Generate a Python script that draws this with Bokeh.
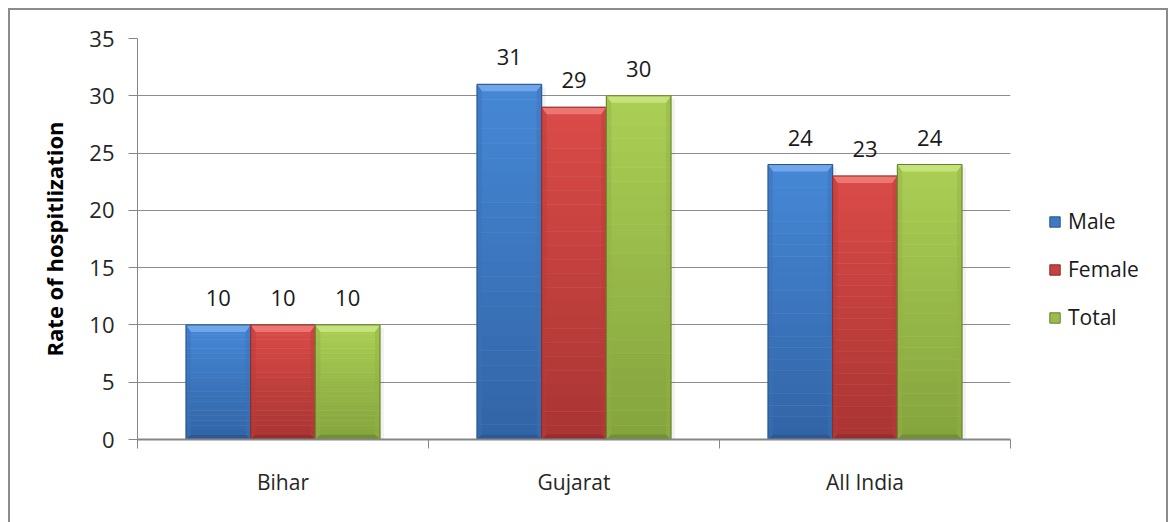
from bokeh.plotting import figure
from bokeh.models import FixedTicker, Legend, LegendItem
from bokeh.core.properties import value
from bokeh.embed import file_html
from bokeh.resources import INLINE

# ---- data ----
regions = ["Bihar", "Gujarat", "All India"]
series_names = ["Male", "Female", "Total"]
male = [10, 31, 24]
female = [10, 29, 23]
total = [10, 30, 24]
y_ticks = [0, 5, 10, 15, 20, 25, 30, 35]

# ---- styling ----
FONT = "Open Sans"
# (top of bar, bottom of bar, top bevel, bottom bevel, side bevel, outline)
palettes = {
    "Male":   ("#4688D6", "#3264A6", "#75AAEC", "#2A5590", "#3A70B8", "#2A5488"),
    "Female": ("#DA4B48", "#A93533", "#EE7A77", "#8F2C2A", "#B93C39", "#8A2B29"),
    "Total":  ("#ABCF55", "#84A33D", "#C9E57F", "#6E8A31", "#92B244", "#66812C"),
}

FRAME_W, FRAME_H = 873, 401
Y_MAX = 35
n_cat = len(regions)
ux = n_cat / FRAME_W          # data units per pixel along x
uy = Y_MAX / FRAME_H          # data units per pixel along y

GRAY = "#8C8C8C"
line_img = "linear-gradient(%s,%s)" % (GRAY, GRAY)
# thin frame around the whole chart (top, left and right edges)
frame_bg = ", ".join([
    line_img + " 8px 8px / 1160px 2px no-repeat",
    line_img + " 8px 8px / 2px 600px no-repeat",
    line_img + " 1166px 8px / 2px 600px no-repeat",
    "white",
])

p = figure(frame_width=FRAME_W, frame_height=FRAME_H,
           x_range=(0, n_cat), y_range=(0, Y_MAX),
           output_backend="svg", toolbar_location=None,
           min_border_left=137, min_border_right=159,
           min_border_top=38, min_border_bottom=83,
           styles={"background": frame_bg})
p.outline_line_color = None
p.background_fill_color = "white"
p.border_fill_alpha = 0

# ---- axes ----
centers = [i + 0.5 for i in range(n_cat)]
p.xaxis.ticker = FixedTicker(ticks=centers, minor_ticks=list(range(n_cat + 1)))
p.xaxis.major_label_overrides = {c: r for c, r in zip(centers, regions)}
p.xaxis.major_tick_out = 0
p.xaxis.major_tick_in = 0
p.xaxis.minor_tick_out = 9
p.xaxis.minor_tick_in = 0
p.xaxis.minor_tick_line_color = "#868686"
p.xaxis.axis_line_color = "#868686"
p.xaxis.axis_line_width = 2
p.xaxis.major_label_standoff = 19
p.xaxis.major_label_text_font = FONT
p.xaxis.major_label_text_font_size = "21px"
p.xaxis.major_label_text_color = "#262626"

p.yaxis.ticker = FixedTicker(ticks=y_ticks, minor_ticks=[])
p.yaxis.major_tick_out = 9
p.yaxis.major_tick_in = 0
p.yaxis.major_tick_line_color = "#868686"
p.yaxis.axis_line_color = "#868686"
p.yaxis.major_label_standoff = 14
p.yaxis.major_label_text_font = FONT
p.yaxis.major_label_text_font_size = "22px"
p.yaxis.major_label_text_color = "#262626"
p.yaxis.axis_label = "Rate of hospitlization"
p.yaxis.axis_label_text_font = FONT
p.yaxis.axis_label_text_font_style = "bold"
p.yaxis.axis_label_text_font_size = "22px"
p.yaxis.axis_label_text_color = "#000000"
p.yaxis.axis_label_standoff = 17

p.xgrid.grid_line_color = None
p.ygrid.ticker = FixedTicker(ticks=y_ticks)
p.ygrid.grid_line_color = GRAY
p.ygrid.grid_line_width = 1


def mix(c1, c2, t):
    a = [int(c1[i:i + 2], 16) for i in (1, 3, 5)]
    b = [int(c2[i:i + 2], 16) for i in (1, 3, 5)]
    return "#" + "".join("%02x" % round(a[k] + (b[k] - a[k]) * t) for k in range(3))


bar_w = 2 / 9
offsets = [-bar_w, 0, bar_w]
all_series = [male, female, total]
legend_items = []
N_BANDS = 24
tb, bb, sb = 7 * uy, 5 * uy, 5 * ux   # bevel sizes

for name, vals, off in zip(series_names, all_series, offsets):
    top_c, bot_c, tbev, bbev, sbev, line_c = palettes[name]
    xs = [c + off for c in centers]

    # soft drop shadow on the right side
    p.quad(left=[x + bar_w / 2 for x in xs], right=[x + bar_w / 2 + 4 * ux for x in xs],
           bottom=[0] * n_cat, top=[v - 3 * uy for v in vals],
           fill_color="#000000", fill_alpha=0.05, line_color=None)

    # vertical gradient body
    bl, br, bbot, btop, bcol = [], [], [], [], []
    for x, v in zip(xs, vals):
        for k in range(N_BANDS):
            bl.append(x - bar_w / 2)
            br.append(x + bar_w / 2)
            bbot.append(v * k / N_BANDS)
            btop.append(v * (k + 1) / N_BANDS)
            bcol.append(mix(bot_c, top_c, (k + 0.5) / N_BANDS))
    p.quad(left=bl, right=br, bottom=bbot, top=btop,
           fill_color=bcol, line_color=bcol, line_width=0.6)

    # bevel facets
    top_x, top_y, bot_x, bot_y, side_x, side_y = [], [], [], [], [], []
    for x, v in zip(xs, vals):
        l, r = x - bar_w / 2, x + bar_w / 2
        top_x.append([l, r, r - sb, l + sb])
        top_y.append([v, v, v - tb, v - tb])
        bot_x.append([l, r, r - sb, l + sb])
        bot_y.append([0, 0, bb, bb])
        side_x.append([l, l + sb, l + sb, l])
        side_y.append([0, bb, v - tb, v])
        side_x.append([r, r - sb, r - sb, r])
        side_y.append([0, bb, v - tb, v])
    p.patches(top_x, top_y, fill_color=tbev, fill_alpha=0.9, line_color=None)
    p.patches(bot_x, bot_y, fill_color=bbev, fill_alpha=0.8, line_color=None)
    p.patches(side_x, side_y, fill_color=sbev, fill_alpha=0.45, line_color=None)

    # outline
    p.vbar(x=xs, top=vals, width=bar_w, bottom=0, fill_alpha=0,
           line_color=line_c, line_width=1)
    # legend swatch
    swatch = p.vbar(x=[xs[0]], top=[0], width=0, fill_color=mix(bot_c, top_c, 0.6),
                    line_color=line_c, line_width=1)
    legend_items.append(LegendItem(label=name, renderers=[swatch]))

    # value labels
    p.text(x=xs, y=vals, text=[str(v) for v in vals],
           text_font=value(FONT), text_font_size="22px", text_color="#1a1a1a",
           text_align="center", text_baseline="alphabetic", y_offset=-27)

legend = Legend(items=legend_items, location=(38, 108), orientation="vertical",
                border_line_color=None, background_fill_alpha=0,
                glyph_width=13, glyph_height=13, label_height=22,
                label_text_font=FONT, label_text_font_size="21px",
                label_text_color="#1a1a1a", spacing=20, padding=0, margin=0,
                label_standoff=7)
p.add_layout(legend, "right")

open("out.html", "w").write(file_html(p, INLINE))
